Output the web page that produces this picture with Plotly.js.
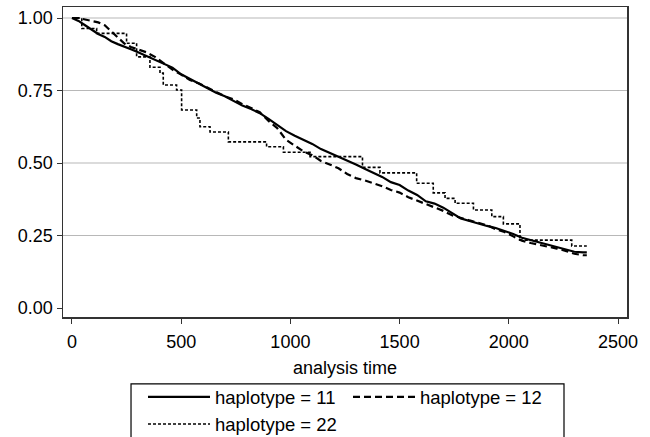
<!DOCTYPE html>
<html>
<head>
<meta charset="utf-8">
<script src="https://cdn.plot.ly/plotly-3.0.1.min.js"></script>
<style>html,body{margin:0;padding:0;background:#fff;}#chart{width:650px;height:437px;}</style>
</head>
<body>
<div id="chart"></div>
<script>
// haplotype = 11 (solid)
const t11 = [0,30,60,90,120,150,180,210,240,270,300,340,380,420,460,500,540,580,620,660,700,740,780,820,860,900,940,980,1020,1060,1100,1140,1180,1220,1260,1300,1340,1380,1420,1460,1500,1540,1580,1620,1660,1700,1740,1780,1820,1860,1900,1940,1980,2020,2060,2100,2140,2180,2220,2260,2300,2340,2357];
const s11 = [1.0,0.99,0.975,0.96,0.945,0.935,0.92,0.91,0.902,0.892,0.883,0.87,0.857,0.843,0.829,0.806,0.79,0.772,0.758,0.742,0.73,0.714,0.698,0.686,0.672,0.652,0.63,0.61,0.594,0.58,0.566,0.548,0.535,0.52,0.508,0.495,0.48,0.466,0.452,0.434,0.424,0.405,0.39,0.368,0.36,0.346,0.328,0.309,0.3,0.291,0.283,0.276,0.266,0.255,0.242,0.234,0.226,0.218,0.21,0.202,0.194,0.192,0.192];
// haplotype = 12 (dashed)
const t12 = [0,30,60,90,120,150,180,210,240,270,300,340,380,420,460,500,540,580,620,660,700,740,780,820,860,900,940,980,1020,1060,1100,1140,1180,1220,1260,1300,1340,1380,1420,1460,1500,1540,1580,1620,1660,1700,1740,1780,1820,1860,1900,1940,1980,2020,2060,2100,2140,2180,2220,2260,2300,2340,2357];
const s12 = [1.0,1.0,0.995,0.99,0.985,0.975,0.955,0.935,0.912,0.9,0.892,0.882,0.866,0.845,0.822,0.805,0.786,0.775,0.76,0.745,0.73,0.72,0.703,0.69,0.675,0.645,0.62,0.58,0.56,0.54,0.527,0.507,0.495,0.482,0.462,0.448,0.44,0.43,0.42,0.407,0.398,0.382,0.37,0.358,0.347,0.335,0.32,0.31,0.302,0.294,0.285,0.272,0.262,0.247,0.232,0.224,0.218,0.212,0.205,0.197,0.187,0.182,0.182];
// haplotype = 22 (dotted)
const t22 = [0,45,113,250,296,357,403,418,479,502,571,586,632,716,891,968,1090,1330,1410,1578,1654,1708,1754,1838,1922,1975,2051,2288,2357];
const s22 = [1.0,0.964,0.947,0.913,0.866,0.83,0.81,0.769,0.752,0.683,0.655,0.625,0.607,0.573,0.556,0.537,0.522,0.485,0.466,0.43,0.397,0.378,0.361,0.338,0.315,0.29,0.234,0.214,0.214];

const names = ["haplotype = 11","haplotype = 12","haplotype = 22"];
const xTicks = [0,500,1000,1500,2000,2500];
const yTicks = [0,0.25,0.5,0.75,1];
const yTickText = ["0.00","0.25","0.50","0.75","1.00"];
const gridVals = [0.25,0.5,0.75,1];

const font = {family:"Liberation Sans, Arial, Helvetica, sans-serif", size:18, color:"#000"};
const legFont = {family:"Liberation Sans, Arial, Helvetica, sans-serif", size:18.5, color:"#000"};

const traces = [
  {x:t11, y:s11, name:names[0], type:"scatter", mode:"lines", line:{shape:"linear", color:"#000", width:2.2, dash:"solid"}},
  {x:t12, y:s12, name:names[1], type:"scatter", mode:"lines", line:{shape:"linear", color:"#000", width:2.2, dash:"7px,4px"}},
  {x:t22, y:s22, name:names[2], type:"scatter", mode:"lines", line:{shape:"hv", color:"#000", width:1.6, dash:"3px,2px"}}
];

const shapes = gridVals.map(v => ({type:"line", xref:"paper", x0:0, x1:1, yref:"y", y0:v, y1:v, layer:"below", line:{color:"#b8b8b8", width:1.2}}));
// legend frame (bottom edge runs past the picture, as in the reference)
shapes.push({type:"rect", xref:"paper", yref:"paper", x0:0.1206, x1:0.8883, y0:-0.216, y1:-0.45, line:{color:"#000", width:1.2}, fillcolor:"rgba(0,0,0,0)", layer:"above"});

const layout = {
  width:650, height:437,
  margin:{l:63, r:23, t:7, b:120},
  paper_bgcolor:"#fff", plot_bgcolor:"#fff",
  font:font,
  showlegend:true,
  shapes:shapes,
  xaxis:{range:[-41,2541], tickvals:xTicks, ticktext:xTicks.map(String), showgrid:false, zeroline:false,
         showline:true, mirror:true, linecolor:"#333", linewidth:1.5, ticks:"outside", ticklen:5, tickcolor:"#333",
         ticklabelstandoff:3, tickfont:font, title:{text:"analysis time", font:font, standoff:12}},
  yaxis:{range:[-0.031,1.038], tickvals:yTicks, ticktext:yTickText, showgrid:false, zeroline:false,
         showline:true, mirror:true, linecolor:"#333", linewidth:1.5, ticks:"outside", ticklen:5, tickcolor:"#333",
         tickfont:font},
  legend:{orientation:"h", xref:"container", yref:"container", x:0.22, xanchor:"left", y:0.134, yanchor:"top",
          bgcolor:"rgba(0,0,0,0)", borderwidth:0, font:legFont, itemwidth:62, entrywidth:128, entrywidthmode:"pixels",
          traceorder:"normal"}
};

Plotly.newPlot("chart", traces, layout, {staticPlot:true, displayModeBar:false});
</script>
</body>
</html>
